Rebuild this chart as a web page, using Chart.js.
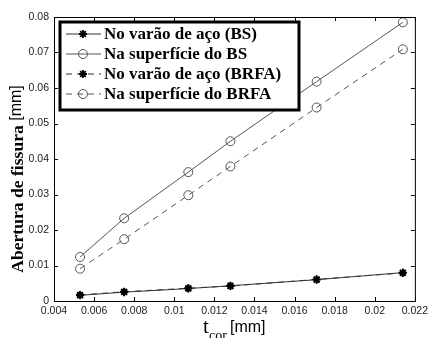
<!DOCTYPE html>
<html>
<head>
<meta charset="utf-8">
<script src="https://cdn.jsdelivr.net/npm/chart.js@4.4.0/dist/chart.umd.min.js"></script>
<style>
  html, body { margin: 0; padding: 0; background: #fff; }
  #wrap { width: 432px; height: 338px; }
</style>
</head>
<body>
<div id="wrap"><canvas id="fissura" width="432" height="338"></canvas></div>
<script>
// t_cor values [mm]
const tcor = [0.0053, 0.0075, 0.0107, 0.0128, 0.0171, 0.0214];

const varaoBS = [0.0016, 0.0025, 0.0035, 0.0043, 0.0060, 0.0080];
const superficieBS = [0.0124, 0.0233, 0.0363, 0.0450, 0.0618, 0.0785];
const varaoBRFA = [0.0017, 0.0026, 0.0036, 0.0042, 0.0061, 0.0079];
const superficieBRFA = [0.0091, 0.0174, 0.0298, 0.0379, 0.0545, 0.0709];

const seriesNames = ["No varão de aço (BS)", "Na superfície do BS", "No varão de aço (BRFA)", "Na superfície do BRFA"];

const xTicks = [0.004, 0.006, 0.008, 0.01, 0.012, 0.014, 0.016, 0.018, 0.02, 0.022];
const yTicks = [0, 0.01, 0.02, 0.03, 0.04, 0.05, 0.06, 0.07, 0.08];

function pts(ys) {
    return tcor.map((x, i) => ({ x: x, y: ys[i] }));
}

const grey = "#555";

// frame, inner ticks, legend box and axis titles
const framePlugin = {
    id: "frame",
    afterDraw(chart) {
        const ctx = chart.ctx;
        const a = chart.chartArea;
        const xs = chart.scales.x, ys = chart.scales.y;
        ctx.save();
        ctx.strokeStyle = "#000";
        ctx.lineWidth = 1;
        ctx.strokeRect(a.left + 0.5, a.top + 0.5, a.right - a.left, a.bottom - a.top);
        ctx.beginPath();
        xTicks.forEach(v => {
            let p = Math.round(xs.getPixelForValue(v)) + 0.5;
            ctx.moveTo(p, a.bottom); ctx.lineTo(p, a.bottom - 4);
            ctx.moveTo(p, a.top); ctx.lineTo(p, a.top + 4);
        });
        yTicks.forEach(v => {
            let p = Math.round(ys.getPixelForValue(v)) + 0.5;
            ctx.moveTo(a.left, p); ctx.lineTo(a.left + 4, p);
            ctx.moveTo(a.right, p); ctx.lineTo(a.right - 4, p);
        });
        ctx.stroke();

        // legend
        const lx = 60, ly = 22, lw = 239, lh = 88;
        ctx.fillStyle = "#fff";
        ctx.fillRect(lx, ly, lw, lh);
        ctx.lineWidth = 3;
        ctx.strokeStyle = "#000";
        ctx.strokeRect(lx, ly, lw, lh);
        ctx.font = "bold 17px 'Liberation Serif', 'DejaVu Serif', serif";
        ctx.textBaseline = "middle";
        chart.data.datasets.forEach((ds, i) => {
            const y = 34 + i * 20;
            ctx.strokeStyle = ds.borderColor;
            ctx.lineWidth = 1;
            ctx.setLineDash(ds.borderDash || []);
            ctx.beginPath();
            ctx.moveTo(66, y); ctx.lineTo(101, y);
            ctx.stroke();
            ctx.setLineDash([]);
            ctx.strokeStyle = ds.pointBorderColor;
            ctx.fillStyle = ds.pointBackgroundColor;
            ctx.lineWidth = ds.pointBorderWidth;
            Chart.helpers.drawPoint(ctx, {
                pointStyle: ds.pointStyle,
                radius: ds.pointRadius,
                borderWidth: ds.pointBorderWidth
            }, 83, y);
            ctx.fillStyle = "#000";
            ctx.fillText(ds.label, 104, y + 1);
        });

        // y title
        ctx.save();
        ctx.translate(17, 179);
        ctx.rotate(-Math.PI / 2);
        ctx.fillStyle = "#000";
        ctx.textBaseline = "middle";
        const t1 = "Abertura de fissura ";
        ctx.font = "bold 17px 'Liberation Serif', serif";
        const fs = 17 * 152 / ctx.measureText(t1).width;
        const f1 = "bold " + fs.toFixed(1) + "px 'Liberation Serif', serif";
        ctx.font = f1;
        const w1 = ctx.measureText(t1).width;
        ctx.font = "16px 'Liberation Sans', sans-serif";
        const t2 = "[mm]";
        const w2 = ctx.measureText(t2).width;
        let sx = -(w1 + w2) / 2;
        ctx.font = f1;
        ctx.fillText(t1, sx, 1);
        ctx.font = "16px 'Liberation Sans', sans-serif";
        ctx.fillText(t2, sx + w1, 0);
        ctx.restore();

        // x title
        ctx.fillStyle = "#000";
        ctx.textBaseline = "alphabetic";
        ctx.font = "21px 'Liberation Serif', serif";
        ctx.fillText("t", 203, 333);
        ctx.font = "14px 'Liberation Serif', serif";
        ctx.fillText("cor", 209, 340);
        ctx.font = "16px 'Liberation Sans', sans-serif";
        ctx.fillText("[mm]", 230, 332);
        ctx.restore();
    }
};

const ctx = document.getElementById("fissura").getContext("2d");
const myChart = new Chart(ctx, {
    type: "scatter",
    data: {
        datasets: [{
            label: seriesNames[0],
            data: pts(varaoBS),
            showLine: true,
            borderColor: "#333",
            borderWidth: 1,
            pointStyle: "star",
            pointRadius: 4,
            pointBorderWidth: 1.8,
            pointBorderColor: "#000",
            pointBackgroundColor: "#000"
        }, {
            label: seriesNames[1],
            data: pts(superficieBS),
            showLine: true,
            borderColor: grey,
            borderWidth: 1,
            pointStyle: "circle",
            pointRadius: 4.5,
            pointBorderWidth: 1,
            pointBorderColor: grey,
            pointBackgroundColor: "rgba(0,0,0,0)"
        }, {
            label: seriesNames[2],
            data: pts(varaoBRFA),
            showLine: true,
            borderColor: "#333",
            borderWidth: 1,
            borderDash: [6, 5],
            pointStyle: "star",
            pointRadius: 4,
            pointBorderWidth: 1.8,
            pointBorderColor: "#000",
            pointBackgroundColor: "#000"
        }, {
            label: seriesNames[3],
            data: pts(superficieBRFA),
            showLine: true,
            borderColor: grey,
            borderWidth: 1,
            borderDash: [6, 5],
            pointStyle: "circle",
            pointRadius: 4.5,
            pointBorderWidth: 1,
            pointBorderColor: grey,
            pointBackgroundColor: "rgba(0,0,0,0)"
        }]
    },
    options: {
        responsive: false,
        animation: false,
        layout: { padding: { top: 17, right: 11, left: 0, bottom: 0 } },
        plugins: {
            legend: { display: false },
            tooltip: { enabled: false }
        },
        scales: {
            x: {
                type: "linear",
                min: 0.004, max: 0.022,
                grid: { display: false, drawTicks: false, tickLength: 0 },
                border: { display: false },
                afterBuildTicks: s => { s.ticks = xTicks.map(v => ({ value: v })); },
                afterFit: s => { s.height = 37; },
                ticks: {
                    color: "#222",
                    padding: 4,
                    maxRotation: 0,
                    font: { family: "'Liberation Sans', Arial, sans-serif", size: 10.5 },
                    callback: v => String(parseFloat(v.toFixed(3)))
                }
            },
            y: {
                type: "linear",
                min: 0, max: 0.08,
                grid: { display: false, drawTicks: false, tickLength: 0 },
                border: { display: false },
                afterBuildTicks: s => { s.ticks = yTicks.map(v => ({ value: v })); },
                afterFit: s => { s.width = 54; },
                ticks: {
                    color: "#222",
                    padding: 5,
                    font: { family: "'Liberation Sans', Arial, sans-serif", size: 10.5 },
                    callback: v => String(parseFloat(v.toFixed(3)))
                }
            }
        }
    },
    plugins: [framePlugin]
});
</script>
</body>
</html>
